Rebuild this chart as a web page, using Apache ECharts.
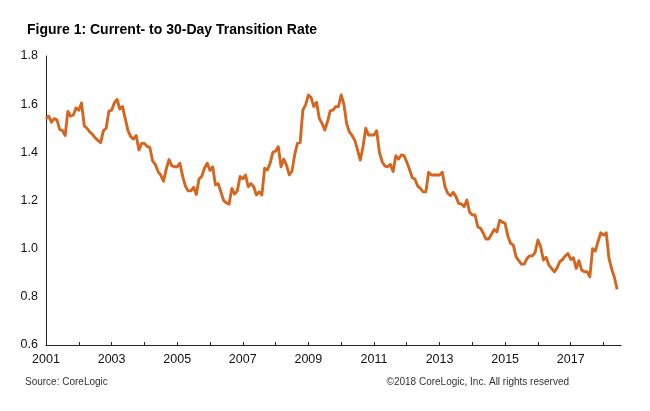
<!DOCTYPE html>
<html>
<head>
<meta charset="utf-8">
<script src="https://cdn.jsdelivr.net/npm/echarts@6/dist/echarts.min.js"></script>
<style>
html,body{margin:0;padding:0;background:#fff;}
#chart{width:650px;height:411px;}
</style>
</head>
<body>
<div id="chart"></div>
<script>
// Monthly Current-to-30-Day transition rate, Jan 2001 .. Jun 2018 (index 0 = Jan 2001)
var startYear = 2001;
var rates = [
  1.54, 1.55, 1.525, 1.54, 1.535, 1.495, 1.49, 1.47, 1.57, 1.55, 1.555, 1.585,
  1.575, 1.605, 1.51, 1.50, 1.485, 1.475, 1.46, 1.45, 1.44, 1.49, 1.50, 1.57,
  1.575, 1.605, 1.62, 1.58, 1.59, 1.54, 1.49, 1.465, 1.455, 1.47, 1.41, 1.437,
  1.437, 1.425, 1.42, 1.365, 1.35, 1.32, 1.305, 1.28, 1.33, 1.37, 1.345, 1.34,
  1.34, 1.355, 1.30, 1.26, 1.24, 1.24, 1.255, 1.225, 1.29, 1.30, 1.335, 1.355,
  1.325, 1.34, 1.265, 1.27, 1.235, 1.20, 1.19, 1.185, 1.25, 1.227, 1.24, 1.30,
  1.29, 1.306, 1.257, 1.27, 1.257, 1.223, 1.236, 1.223, 1.334, 1.327, 1.354, 1.40,
  1.405, 1.423, 1.34, 1.372, 1.347, 1.306, 1.322, 1.39, 1.437, 1.44, 1.576, 1.597,
  1.638, 1.627, 1.59, 1.608, 1.541, 1.52, 1.493, 1.527, 1.572, 1.575, 1.59, 1.59,
  1.638, 1.60, 1.52, 1.485, 1.47, 1.45, 1.41, 1.368, 1.423, 1.50, 1.472, 1.472,
  1.472, 1.489, 1.40, 1.361, 1.343, 1.34, 1.35, 1.32, 1.386, 1.372, 1.389, 1.386,
  1.36, 1.33, 1.295, 1.288, 1.26, 1.25, 1.236, 1.236, 1.317, 1.306, 1.306, 1.306,
  1.306, 1.317, 1.257, 1.23, 1.22, 1.234, 1.216, 1.188, 1.186, 1.174, 1.202, 1.151,
  1.14, 1.14, 1.09, 1.085, 1.064, 1.04, 1.04, 1.06, 1.08, 1.07, 1.118, 1.11,
  1.105, 1.052, 1.022, 1.015, 0.966, 0.95, 0.936, 0.936, 0.96, 0.97, 0.97, 0.985,
  1.036, 1.008, 0.953, 0.964, 0.932, 0.918, 0.904, 0.92, 0.946, 0.955, 0.97, 0.98,
  0.955, 0.962, 0.918, 0.95, 0.911, 0.904, 0.904, 0.883, 1.0, 0.99, 1.03, 1.066,
  1.056, 1.066, 0.96, 0.915, 0.88, 0.831
];
// Year tick positions (months since Jan 2001) and labelled years
var yearTicks = [0, 12, 24, 36, 48, 60, 72, 84, 96, 108, 120, 132, 144, 156, 168, 180, 192, 204];
var yearLabelTicks = [0, 24, 48, 72, 96, 120, 144, 168, 192];
var yTickLabels = ['0.6', '0.8', '1.0', '1.2', '1.4', '1.6', '1.8'];

var seriesData = rates.map(function (v, i) { return [i, v]; });

var chart = echarts.init(document.getElementById('chart'), null, {renderer: 'canvas'});
var font = "'Liberation Sans', Arial, sans-serif";
chart.setOption({
  animation: false,
  backgroundColor: '#ffffff',
  grid: {left: 46, right: 29, top: 56, bottom: 66, containLabel: false},
  xAxis: {
    type: 'value',
    min: 0,
    max: 210.4,
    interval: 12,
    splitLine: {show: false},
    axisLine: {show: true, lineStyle: {color: '#222', width: 1.2}},
    axisTick: {show: true, inside: true, length: 3, customValues: yearTicks, lineStyle: {color: '#222'}},
    axisLabel: {
      customValues: yearLabelTicks,
      color: '#111', fontSize: 12.5, fontFamily: font, margin: 8,
      formatter: function (v) { return String(startYear + Math.round(v / 12)); }
    }
  },
  yAxis: {
    type: 'value',
    min: 0.6,
    max: 1.8,
    interval: 0.2,
    splitLine: {show: false},
    axisLine: {show: true, lineStyle: {color: '#222', width: 1}},
    axisTick: {show: false},
    axisLabel: {
      color: '#111', fontSize: 12.5, fontFamily: font, margin: 8,
      formatter: function (v) { var idx = Math.round((v - 0.6) / 0.2); return yTickLabels[idx] || ''; }
    }
  },
  series: [{
    type: 'line',
    data: seriesData,
    showSymbol: false,
    symbol: 'none',
    lineStyle: {color: '#D4661F', width: 2.9, join: 'round'},
    itemStyle: {color: '#D4661F'}
  }],
  graphic: [
    {type: 'text', left: 27, top: 23, style: {text: 'Figure 1: Current- to 30-Day Transition Rate', font: "bold 14px 'Liberation Sans', Arial, sans-serif", fill: '#000'}},
    {type: 'text', left: 25, top: 377, style: {text: 'Source: CoreLogic', font: "10px 'Liberation Sans', Arial, sans-serif", fill: '#333'}},
    {type: 'text', right: 81, top: 377, style: {text: '\u00a92018 CoreLogic, Inc. All rights reserved', font: "10px 'Liberation Sans', Arial, sans-serif", fill: '#333'}}
  ]
});
</script>
</body>
</html>
